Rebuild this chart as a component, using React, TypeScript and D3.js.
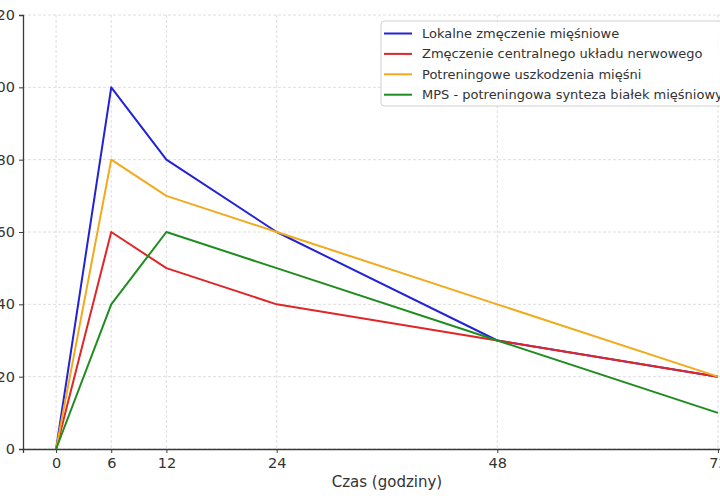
import * as d3 from "d3";
import { useEffect, useRef } from "react";

// hours after training
const hours = [0, 6, 12, 24, 48, 72];

const localFatigue = [0, 100, 80, 60, 30, 20];
const cnsFatigue = [0, 60, 50, 40, 30, 20];
const muscleDamage = [0, 80, 70, 60, 40, 20];
const mps = [0, 40, 60, 50, 30, 10];

const seriesNames = [
  "Lokalne zmęczenie mięśniowe",
  "Zmęczenie centralnego układu nerwowego",
  "Potreningowe uszkodzenia mięśni",
  "MPS - potreningowa synteza białek mięśniowych",
];
const seriesColors = ["#2222d6", "#e02626", "#f2aa1c", "#1f8c1f"];

const yTicks = [0, 20, 40, 60, 80, 100, 120];

export default function App() {
  const ref = useRef<SVGSVGElement>(null);

  useEffect(() => {
    const svg = d3.select(ref.current);
    svg.selectAll("*").remove();

    const font = "DejaVu Sans, sans-serif";
    const left = 23, right = 751, top = 15, bottom = 449;

    const x = d3.scaleLinear().domain([-3.6, 75.6]).range([left, right]);
    const y = d3.scaleLinear().domain([0, 120]).range([bottom, top]);

    svg.append("rect").attr("width", 720).attr("height", 500).attr("fill", "#fff");

    // grid
    const grid = svg.append("g").attr("stroke", "#d6d6d6").attr("stroke-width", 0.8)
      .attr("stroke-dasharray", "3,2");
    grid.selectAll("line.gx").data(hours).join("line")
      .attr("x1", d => x(d)).attr("x2", d => x(d))
      .attr("y1", top).attr("y2", bottom);
    grid.selectAll("line.gy").data(yTicks).join("line")
      .attr("x1", left).attr("x2", right)
      .attr("y1", d => y(d)).attr("y2", d => y(d));

    // axes
    const xAxis = svg.append("g")
      .attr("transform", `translate(0,${bottom})`)
      .call(d3.axisBottom(x).tickValues(hours).tickSize(4).tickPadding(5));
    const yAxis = svg.append("g")
      .attr("transform", `translate(${left},0)`)
      .call(d3.axisLeft(y).tickValues(yTicks).tickSize(4).tickPadding(4));
    [xAxis, yAxis].forEach(a => {
      a.select(".domain").attr("stroke", "#3a3a3a").attr("stroke-width", 1.3);
      a.selectAll(".tick line").attr("stroke", "#3a3a3a");
      a.selectAll(".tick text").attr("fill", "#333").style("font-family", font).style("font-size", "14.5px");
    });

    svg.append("text")
      .attr("x", (left + right) / 2).attr("y", 487)
      .attr("text-anchor", "middle")
      .attr("fill", "#333")
      .style("font-family", font).style("font-size", "15px")
      .text("Czas (godziny)");

    // lines
    const allSeries = [localFatigue, cnsFatigue, muscleDamage, mps];
    const line = d3.line<number>().x((_, i) => x(hours[i])).y(d => y(d));
    svg.selectAll("path.series").data(allSeries).join("path")
      .attr("class", "series")
      .attr("d", d => line(d))
      .attr("fill", "none")
      .attr("stroke", (_, i) => seriesColors[i])
      .attr("stroke-width", 2)
      .attr("stroke-linejoin", "round");

    // legend
    const lg = svg.append("g").attr("transform", "translate(381,21)");
    lg.append("rect")
      .attr("width", 370).attr("height", 85).attr("rx", 3)
      .attr("fill", "#fff").attr("fill-opacity", 0.85)
      .attr("stroke", "#d0d0d0");
    seriesNames.forEach((name, i) => {
      const ry = 12.5 + i * 20.4;
      lg.append("line")
        .attr("x1", 3).attr("x2", 31).attr("y1", ry).attr("y2", ry)
        .attr("stroke", seriesColors[i]).attr("stroke-width", 2);
      lg.append("text")
        .attr("x", 41).attr("y", ry).attr("dy", "0.35em")
        .attr("fill", "#333")
        .style("font-family", font).style("font-size", "13px")
        .text(name);
    });
  }, []);

  return (
    <svg ref={ref} width={720} height={500}
      style={{ position: "absolute", left: 0, top: 0 }} />
  );
}
